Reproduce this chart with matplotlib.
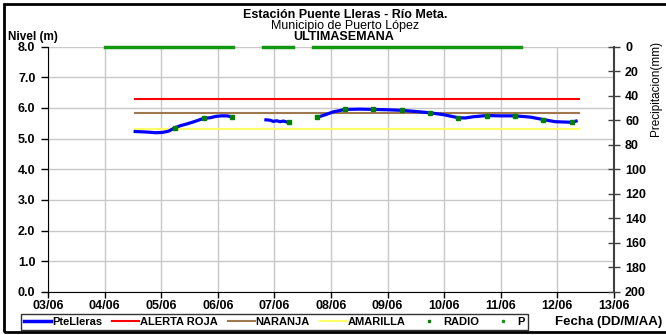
import matplotlib.pyplot as plt
from matplotlib.lines import Line2D
from matplotlib.patches import Rectangle

plt.rcParams['font.family'] = ['Liberation Sans', 'DejaVu Sans']

# x values are days of June (03/06 -> 3.0)
day_ticks = [3, 4, 5, 6, 7, 8, 9, 10, 11, 12, 13]
day_labels = ['03/06', '04/06', '05/06', '06/06', '07/06', '08/06',
              '09/06', '10/06', '11/06', '12/06', '13/06']

# level PteLleras (m), three pieces with gaps
seg1_t = [4.54, 4.65, 4.77, 4.90, 5.02, 5.13, 5.24, 5.34, 5.44, 5.53,
          5.63, 5.72, 5.77, 5.87, 5.96, 6.06, 6.16, 6.25]
seg1_v = [5.23, 5.22, 5.21, 5.19, 5.20, 5.24, 5.35, 5.42, 5.47, 5.52,
          5.58, 5.64, 5.66, 5.68, 5.72, 5.74, 5.74, 5.71]
seg2_t = [6.85, 6.92, 6.98, 7.04, 7.10, 7.16, 7.22, 7.26]
seg2_v = [5.61, 5.60, 5.56, 5.58, 5.55, 5.57, 5.54, 5.53]
seg3_t = [7.75, 7.89, 8.04, 8.25, 8.51, 8.75, 8.98, 9.25, 9.51, 9.75,
          9.98, 10.25, 10.37, 10.51, 10.75, 10.99, 11.25, 11.52, 11.75,
          11.96, 12.25, 12.33]
seg3_v = [5.69, 5.77, 5.87, 5.95, 5.96, 5.95, 5.94, 5.92, 5.88, 5.84,
          5.78, 5.68, 5.67, 5.71, 5.75, 5.74, 5.74, 5.70, 5.62,
          5.55, 5.53, 5.57]

# RADIO readings
radio_t = [5.25, 5.75, 6.25, 7.25, 7.75, 8.25, 8.75, 9.25, 9.75,
           10.25, 10.75, 11.25, 11.75, 12.25]
radio_v = [5.35, 5.66, 5.71, 5.53, 5.69, 5.95, 5.95, 5.92, 5.84,
           5.68, 5.75, 5.74, 5.62, 5.53]

# alert levels (m)
alert_names = ['ALERTA ROJA', 'NARANJA', 'AMARILLA']
alert_levels = [6.3, 5.82, 5.3]
alert_colors = ['#FF0000', '#A07850', '#FFFF66']
alert_start, alert_end = 4.54, 12.38

# precipitation P (mm), all zero readings, stretches with data
p_start = [4.0, 6.8, 7.68]
p_end = [6.27, 7.33, 11.36]
p_value = [0, 0, 0]

fig = plt.figure(figsize=(6.66, 3.35), dpi=100)
ax = fig.add_axes([48 / 666, 43 / 335, 566 / 666, 245.5 / 335])
ax2 = ax.twinx()

ax.set_xlim(3, 13)
ax.set_ylim(0, 8)
ax2.set_ylim(200, 0)

ax.set_xticks(day_ticks)
ax.set_xticklabels(day_labels, fontsize=9, fontweight='bold')
ax.set_yticks(range(0, 9))
ax.set_yticklabels(['%.1f' % v for v in range(0, 9)], fontsize=9, fontweight='bold')
ax2.set_yticks(range(0, 201, 20))
ax2.set_yticklabels([str(v) for v in range(0, 201, 20)], fontsize=9, fontweight='bold')

ax.grid(True, color='#C8C8C8', linewidth=1)
ax.set_axisbelow(True)
for s in ['top', 'right']:
    ax.spines[s].set_visible(False)
for s in ['top', 'left', 'bottom']:
    ax2.spines[s].set_visible(False)
ax2.spines['right'].set_color('#404040')
ax2.spines['right'].set_linewidth(1.5)
ax.tick_params(axis='y', direction='out', length=5, width=1, pad=4)
ax.tick_params(axis='x', direction='out', length=4, width=1, pad=2)
ax2.tick_params(axis='y', direction='inout', length=8, width=1, color='#404040', pad=4)

for name, lvl, col in zip(alert_names, alert_levels, alert_colors):
    ax.plot([alert_start, alert_end], [lvl, lvl], color=col, lw=1.5, zorder=2)

for tt, vv in [(seg1_t, seg1_v), (seg2_t, seg2_v), (seg3_t, seg3_v)]:
    ax.plot(tt, vv, color='#0000FF', lw=2.3, zorder=3)
ax.plot(radio_t, radio_v, ls='none', marker='s', ms=2.2, color='#008000', zorder=4)

for a, b, v in zip(p_start, p_end, p_value):
    ax2.plot([a, b], [v, v], color='#119911', lw=2.5, clip_on=False, zorder=5)

fig.text(345 / 666, 1 - 15.5 / 335, 'Estación Puente Lleras - Río Meta.',
         ha='center', va='center', fontsize=9, fontweight='bold')
fig.text(345 / 666, 1 - 26.5 / 335, 'Municipio de Puerto López',
         ha='center', va='center', fontsize=9)
fig.text(344 / 666, 1 - 37.5 / 335, 'ULTIMASEMANA',
         ha='center', va='center', fontsize=9, fontweight='bold')
fig.text(8 / 666, 1 - 37 / 335, 'Nivel (m)', ha='left', va='center',
         fontsize=8.5, fontweight='bold')
fig.text(656 / 666, 1 - 88 / 335, 'Precipitacion(mm)', rotation=90,
         ha='center', va='center', fontsize=8.5)
fig.text(555 / 666, 1 - 322 / 335, 'Fecha (DD/M/AA)', ha='left', va='center',
         fontsize=9.5, fontweight='bold')

handles = [Line2D([], [], color='#0000FF', lw=2.5)]
handles += [Line2D([], [], color=c, lw=1.5) for c in alert_colors]
handles += [Line2D([], [], ls='none', marker='s', ms=2, color='#008000'),
            Line2D([], [], ls='none', marker='s', ms=2, color='#119911')]
labels = ['PteLleras'] + alert_names + ['RADIO', 'P']
leg = fig.legend(handles, labels, loc='center', ncol=6,
                 bbox_to_anchor=(274.5 / 666, 1 - 322 / 335),
                 prop={'size': 8, 'weight': 'bold'}, frameon=True, fancybox=False,
                 handlelength=2.4, handletextpad=0.1, columnspacing=0.9,
                 borderpad=0.3, borderaxespad=0, markerscale=1)
leg.get_frame().set_edgecolor('black')
leg.get_frame().set_linewidth(1)

fig.patches.append(Rectangle((4 / 666, 3.5 / 335), 670 / 666, 327.5 / 335,
                             transform=fig.transFigure, fill=False,
                             edgecolor='black', linewidth=2))

fig.savefig('out.png', dpi=100)
